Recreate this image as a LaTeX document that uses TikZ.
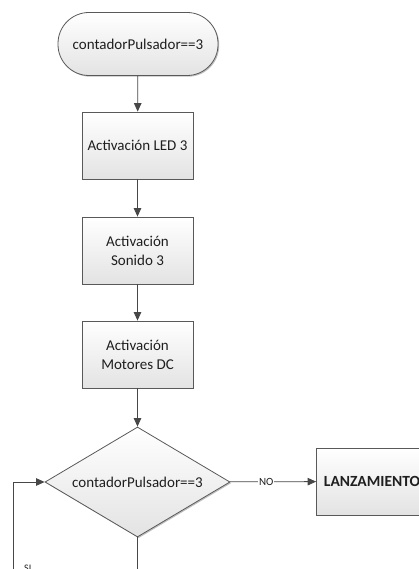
\documentclass[tikz,border=0pt]{standalone}
\usepackage{fontspec}
\setmainfont{Carlito}
\usetikzlibrary{arrows.meta,shapes.geometric,shadows}
\begin{document}
\begin{tikzpicture}[x=1pt,y=-1pt,
  every node/.style={font=\fontsize{15}{18}\selectfont, text=black!88},
  shape base/.style={draw=black!65, line width=0.8pt,
    top color=white, bottom color=black!11,
    drop shadow={shadow xshift=1.2pt, shadow yshift=-1.2pt, opacity=0.25, fill=black}},
  terminal/.style={shape base, rectangle, rounded corners=31pt,
    minimum width=160pt, minimum height=63pt, inner sep=0pt},
  process/.style={shape base, rectangle, minimum width=111pt, minimum height=67pt,
    inner sep=2pt, align=center},
  decision/.style={shape base, diamond, minimum width=185pt, minimum height=110pt,
    inner sep=0pt, aspect=1.68},
  flow/.style={draw=black!72, line width=0.8pt, -{Triangle[length=8.5pt,width=7.5pt]}},
  plain/.style={draw=black!72, line width=0.8pt},
  edgelabel/.style={font=\fontsize{11}{12}\selectfont, fill=white, inner sep=1pt}
]
\useasboundingbox (0,0) rectangle (419,569);
\clip (0,0) rectangle (419,569);

% flowchart blocks
\node[terminal] (start) at (138,44) {contadorPulsador==3};
\node[process] (led) at (137.5,145.5) {Activación LED 3};
\node[process] (sound) at (137.5,250.5) {Activación\\[1pt]Sonido 3};
\node[process] (motor) at (137.5,354.5) {Activación\\[1pt]Motores DC};
\node[decision] (check) at (137.5,482) {contadorPulsador==3};
\node[process, font=\fontsize{15.5}{18}\selectfont\bfseries] (launch) at (372,481.5) {LANZAMIENTO};

% free ends running off the sheet
\coordinate (down) at (137.5,580);
\coordinate (loopbot) at (13,580);
\coordinate (loopturn) at (13,482);

% connectors
\draw[flow] (start) -- (led);
\draw[flow] (led) -- (sound);
\draw[flow] (sound) -- (motor);
\draw[flow] (motor) -- (check);
\draw[flow] (check) -- node[edgelabel, pos=0.42] {NO} (launch);
\draw[plain] (check.south) -- (down);
\draw[flow] (loopbot) -- (loopturn) -- (check.west);
\node[font=\fontsize{10}{11}\selectfont, anchor=north west, inner sep=0pt] (si) at (24,565) {SI};
\end{tikzpicture}
\end{document}
